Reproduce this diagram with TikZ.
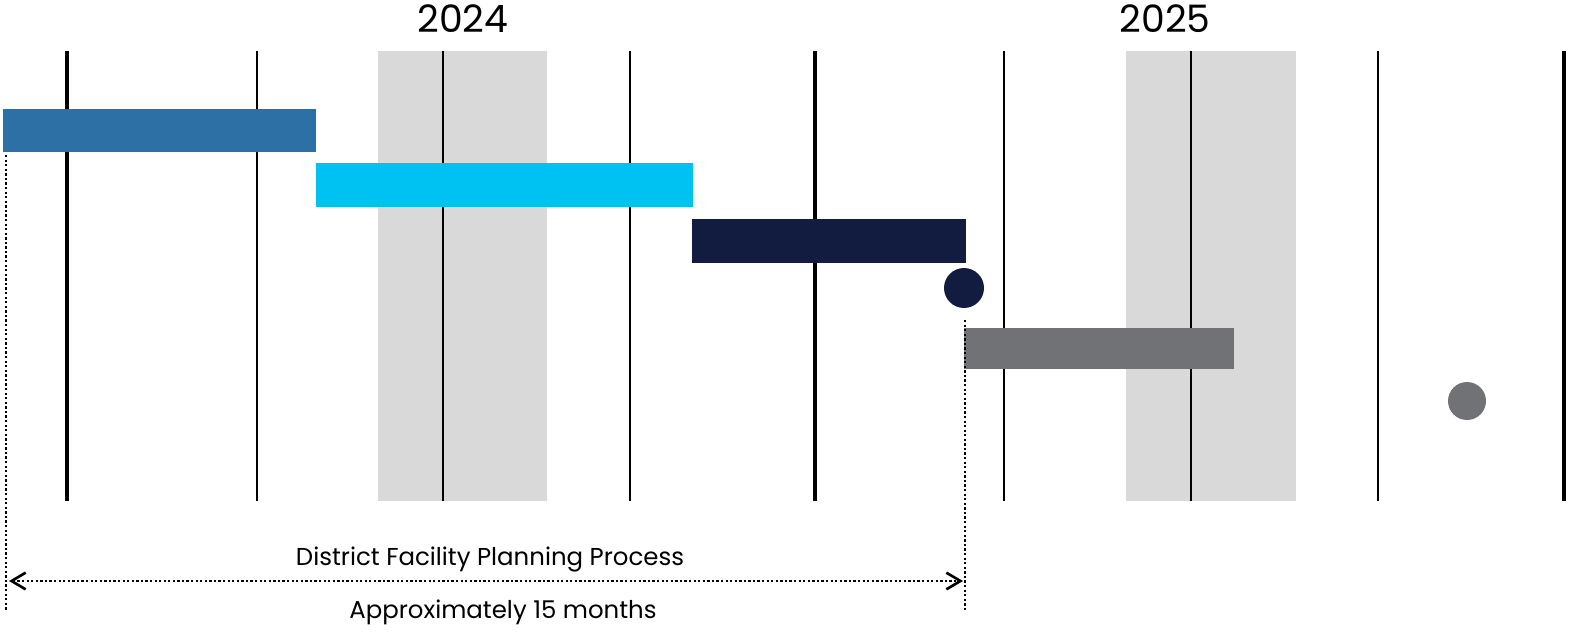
\documentclass[tikz,border=0pt]{standalone}
\usepackage{fontspec}
\setmainfont{Poppins}
\usetikzlibrary{arrows.meta}
\definecolor{barblue}{RGB}{44,112,166}
\definecolor{barcyan}{RGB}{0,194,242}
\definecolor{barnavy}{RGB}{18,27,64}
\definecolor{bargray}{RGB}{112,114,118}
\definecolor{bandgray}{RGB}{217,217,217}

\begin{document}
\begin{tikzpicture}[x=0.02cm,y=-0.02cm,line join=round,>={Straight Barb[length=8pt,width=9.5pt,line width=1.5pt]},
        year/.style={font=\fontsize{21.5}{24}\selectfont},
        label/.style={font=\fontsize{13.9}{16}\selectfont},
        dots/.style={line width=1.3pt,dash pattern=on 1.3pt off 1.3pt}]
        \useasboundingbox (0,0) rectangle (1569,632);

        \fill[bandgray] (378,51) rectangle (547,501);
        \fill[bandgray] (1126,51) rectangle (1296,501);

        \foreach \x in {257,443,630,1004,1191,1378}
                \draw[line width=1.1pt] (\x,51) -- (\x,501);
        \foreach \x in {67,815,1564}
                \draw[line width=2.8pt] (\x,51) -- (\x,501);

        \node[year] (y2024) at (463,19) {2024};
        \node[year] (y2025) at (1165,19) {2025};

        \fill[barblue] (3,109) rectangle (316,152);
        \fill[barcyan] (316,163) rectangle (693,207);
        \fill[barnavy] (692,219) rectangle (966,263);
        \fill[bargray] (964,328) rectangle (1234,369);

        \fill[barnavy] (964,288) circle (0.4cm);
        \fill[bargray] (1467,401) circle (0.38cm);

        \coordinate (start top) at (6,155);
        \coordinate (start bot) at (6,610);
        \coordinate (end top) at (965,320);
        \coordinate (end bot) at (965,610);
        \coordinate (arrow left) at (9,581);
        \coordinate (arrow right) at (963,581);

        \draw[dots] (start top) -- (start bot);
        \draw[dots] (end top) -- (end bot);
        \draw[dots,<->] (arrow left) -- (arrow right);

        \node[label] (process) at (490,559) {District Facility Planning Process};
        \node[label] (months) at (503,612) {Approximately 15 months};
\end{tikzpicture}
\end{document}
